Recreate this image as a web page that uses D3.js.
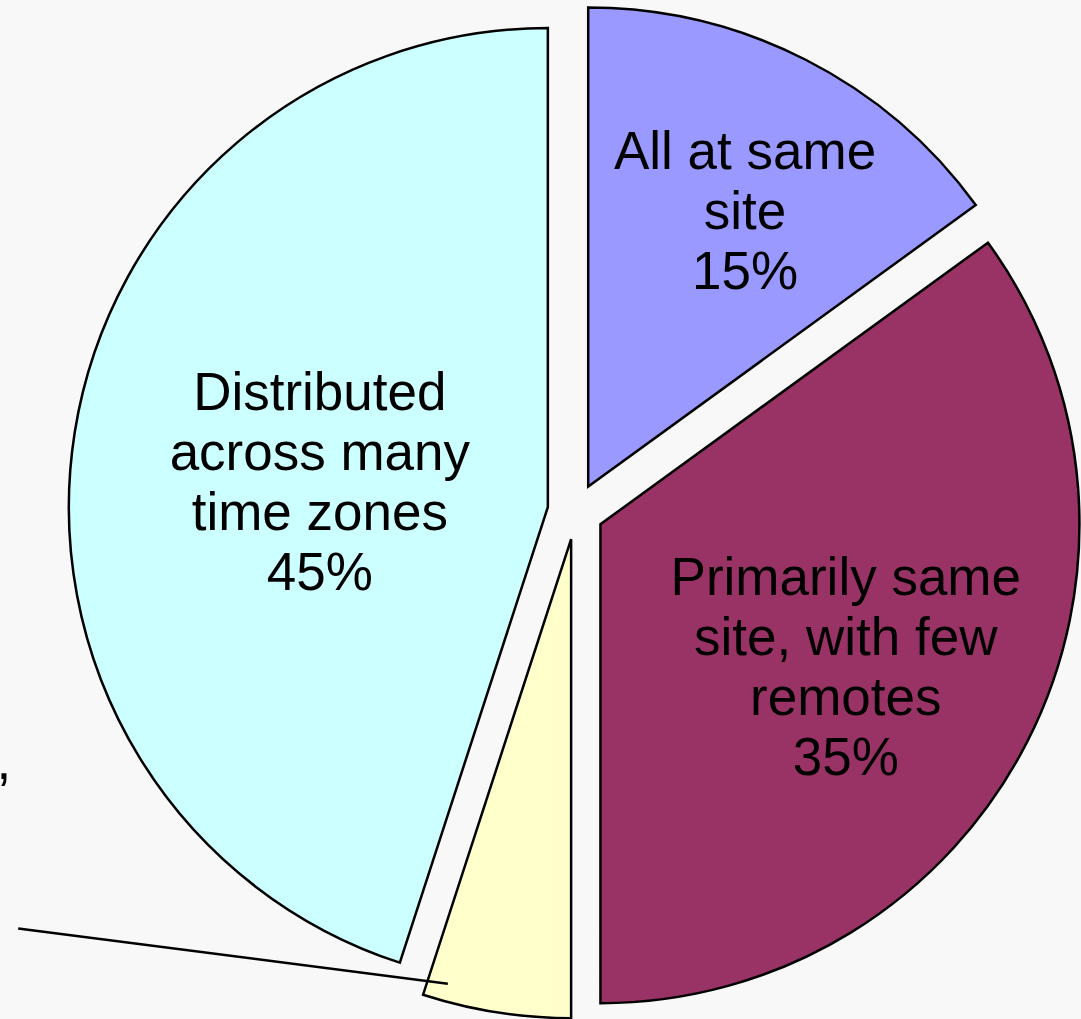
<!DOCTYPE html>
<html>
<head>
<meta charset="utf-8">
<script src="https://cdn.jsdelivr.net/npm/d3@7"></script>
<style>
  html, body { margin: 0; padding: 0; background: #f8f8f8; }
  svg { display: block; }
</style>
</head>
<body>
<div id="chart"></div>
<script>
// slice data, clockwise from 12 o'clock
let categories = ["All at same site", "Primarily same site, with few remotes", "Multiple sites, few zones", "Distributed across many time zones"];
let values = [15, 35, 5, 45];
let labelLines = [["All at same", "site"], ["Primarily same", "site, with few", "remotes"], ["Multiple sites,", "few zones"], ["Distributed", "across many", "time zones"]];
let sliceColors = ["#9999ff", "#993366", "#ffffcc", "#ccffff"];

let width = 1081, height = 1019;
let cx = 575.5, cy = 511.5;
let radius = 479;
let explode = 28;
let fontSize = 53;
let lineHeight = 60;

// label placement: fraction of radius from the slice tip + small angle tweak (degrees)
let labelLayout = [
  { k: 0.663, da: 2.6 },
  { k: 0.592, da: 3.1 },
  null, // outside label with leader line
  { k: 0.479, da: -2.6 }
];

let rad = Math.PI / 180;
function polar(angle, dist) { return [Math.sin(angle) * dist, -Math.cos(angle) * dist]; }

let data = categories.map((c, i) => ({ key: c, value: values[i], lines: labelLines[i], color: sliceColors[i], layout: labelLayout[i] }));

let pie = d3.pie()
    .sort(null)
    .value(d => d.value);
let arcs = pie(data);

let arc = d3.arc()
    .innerRadius(0)
    .outerRadius(radius);

let svg = d3.select("#chart")
  .append("svg")
    .attr("width", width)
    .attr("height", height);

svg.append("rect")
    .attr("width", width)
    .attr("height", height)
    .attr("fill", "#f8f8f8");

let g = svg.append("g")
    .attr("transform", "translate(" + cx + "," + cy + ")");

let slices = g.selectAll("g.slice")
  .data(arcs)
  .enter()
  .append("g")
    .attr("class", "slice")
    .attr("transform", d => {
      let mid = (d.startAngle + d.endAngle) / 2;
      let p = polar(mid, explode);
      return "translate(" + p[0] + "," + p[1] + ")";
    });

slices.append("path")
    .attr("d", arc)
    .attr("fill", d => d.data.color)
    .attr("stroke", "#000")
    .attr("stroke-width", 2.5)
    .attr("stroke-linejoin", "miter");

// inside labels
slices.filter(d => d.data.layout)
  .append("text")
    .attr("text-anchor", "middle")
    .attr("font-family", "'Liberation Sans', Arial, sans-serif")
    .attr("font-size", fontSize)
    .attr("fill", "#000")
    .each(function (d) {
      let mid = (d.startAngle + d.endAngle) / 2 + d.data.layout.da * rad;
      let p = polar(mid, d.data.layout.k * radius);
      let lines = d.data.lines.concat([d.data.value + "%"]);
      let y0 = p[1] + 18.5 - (lines.length - 1) * lineHeight / 2;
      d3.select(this).selectAll("tspan")
        .data(lines)
        .enter()
        .append("tspan")
          .attr("x", p[0])
          .attr("y", (t, i) => y0 + i * lineHeight)
          .text(t => t);
    });

// small slice: leader line to an outside label (mostly off the left edge)
let small = arcs[2];
let smallMid = (small.startAngle + small.endAngle) / 2;
let tip = polar(smallMid, explode);
let inner = polar(195.5 * rad, 0.963 * radius);
let lineStart = [tip[0] + inner[0], tip[1] + inner[1]];
let lineEnd = polar(233.2 * rad, 1.453 * radius);

g.append("line")
    .attr("x1", lineStart[0])
    .attr("y1", lineStart[1])
    .attr("x2", lineEnd[0])
    .attr("y2", lineEnd[1])
    .attr("stroke", "#000")
    .attr("stroke-width", 2.5);

let outLabel = g.append("text")
    .attr("text-anchor", "middle")
    .attr("font-family", "'Liberation Sans', Arial, sans-serif")
    .attr("font-size", fontSize)
    .attr("fill", "#000");

let outLines = small.data.lines.concat([small.data.value + "%"]);
let tspans = outLabel.selectAll("tspan")
  .data(outLines)
  .enter()
  .append("tspan")
    .attr("y", (t, i) => lineEnd[1] - 149 + i * lineHeight)
    .text(t => t);

// centre the block so the first line ends just right of the page edge
let firstW = tspans.nodes()[0].getComputedTextLength();
tspans.attr("x", lineEnd[0] - 7 - firstW / 2);
</script>
</body>
</html>
